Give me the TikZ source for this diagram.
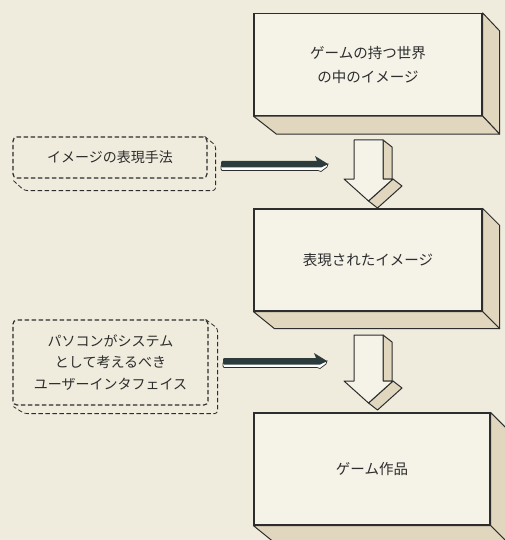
\documentclass[tikz,border=0pt]{standalone}
\usepackage{fontspec}
\newfontfamily\jp{Noto Sans CJK JP}
\usetikzlibrary{calc}
\definecolor{paper}{RGB}{239,235,221}
\definecolor{frontc}{RGB}{245,242,232}
\definecolor{sidec}{RGB}{224,215,190}
\definecolor{ink}{RGB}{45,45,45}
\definecolor{arrdark}{RGB}{44,60,60}
\newcommand\downarr[2]{%
 \filldraw[face] ($(#1)+(14.5,0)$) -- ($(#1)+(23.5,7)$) -- ($(#1)+(23.5,#2-29)$) -- ($(#1)+(14.5,#2-29)$) -- cycle;
 \filldraw[face] ($(#1)+(24.5,#2-29)$) -- ($(#1)+(33.5,#2-22)$) -- ($(#1)+(9,#2)$) -- ($(#1)+(0,#2-7)$) -- cycle;
 \filldraw[frontface] ($(#1)+(-14.5,0)$) -- ($(#1)+(14.5,0)$) -- ($(#1)+(14.5,#2-29)$) -- ($(#1)+(24.5,#2-29)$) -- ($(#1)+(0,#2-7)$) -- ($(#1)+(-24.5,#2-29)$) -- ($(#1)+(-14.5,#2-29)$) -- cycle;}
\newcommand\flatarr[2]{%
 \filldraw[fill=white, draw=ink, line width=0.7pt] ($(#1)+(0,2)$) -- ($(#2)+(-6,2)$) -- (#2) -- ($(#2)+(-1,3)$) -- ($(#2)+(-7,7.5)$) -- ($(#2)+(-10,6.5)$) -- ($(#1)+(1,6.5)$) -- ($(#1)+(0,5)$) -- cycle;
 \fill[arrdark] ($(#1)+(1,-3)$) -- ($(#2)+(-11,-3)$) -- ($(#2)+(-13,-8)$) -- (#2) -- ($(#2)+(-7,3.5)$) -- ($(#1)+(1,3.5)$) -- ($(#1)+(0,2)$) -- ($(#1)+(0,-2)$) -- cycle;}
\begin{document}
\begin{tikzpicture}[x=1pt,y=-1pt,
 face/.style={fill=sidec, draw=ink, line width=1pt, line join=round},
 frontface/.style={fill=frontc, draw=ink, line width=1pt, line join=round},
 mainbox/.style={draw=ink, line width=1.2pt, fill=frontc, minimum width=228pt, minimum height=102pt, inner sep=0pt, align=center, text=ink, font=\jp\fontsize{14.5}{24}\selectfont},
 dbox/.style={draw=ink, line width=1.2pt, dash pattern=on 4.5pt off 2.5pt, rounded corners=4pt, inner sep=0pt, align=center, text=ink, font=\jp\fontsize{14}{21.5}\selectfont},
 dface/.style={draw=ink, line width=0.8pt, dash pattern=on 4.5pt off 2.5pt, rounded corners=3pt}]
\clip (0,0) rectangle (505,540);
\fill[paper] (0,0) rectangle (505,540);
% main boxes
\node[mainbox] (b1) at (368,64.5) {ゲームの持つ世界\\の中のイメージ};
\filldraw[face] (b1.north east) -- ++(17,18) -- ($(b1.south east)+(17,18)$) -- (b1.south east) -- cycle;
\filldraw[face] (b1.south west) -- ++(23,18) -- ($(b1.south east)+(17,18)$) -- (b1.south east) -- cycle;
\node[mainbox] (b2) at (368,260) {表現されたイメージ};
\filldraw[face] (b2.north east) -- ++(17,17) -- ($(b2.south east)+(17,17)$) -- (b2.south east) -- cycle;
\filldraw[face] (b2.south west) -- ++(21,17) -- ($(b2.south east)+(17,17)$) -- (b2.south east) -- cycle;
\node[mainbox, minimum width=236pt, minimum height=112pt] (b3) at (372,469) {ゲーム作品};
\filldraw[face] (b3.north east) -- ++(17,17) -- ($(b3.south east)+(17,17)$) -- (b3.south east) -- cycle;
\filldraw[face] (b3.south west) -- ++(21,17) -- ($(b3.south east)+(17,17)$) -- (b3.south east) -- cycle;
% dashed boxes
\node[dbox, minimum width=194pt, minimum height=41pt] (dA) at (110,157.5) {イメージの表現手法};
\draw[dface] ($(dA.north east)+(-3,0)$) -- ($(dA.north east)+(8,9)$) -- ($(dA.south east)+(8,12)$) -- ($(dA.south west)+(12,12)$) -- ($(dA.south west)+(1,2)$);
\node[dbox, minimum width=195pt, minimum height=85pt] (dB) at (110.5,362.5) {パソコンがシステム\\として考えるべき\\ユーザーインタフェイス};
\draw[dface] ($(dB.north east)+(-3,0)$) -- ($(dB.north east)+(9,9)$) -- ($(dB.south east)+(9,8)$) -- ($(dB.south west)+(12,8)$) -- ($(dB.south west)+(1,1)$);
% down arrows
\coordinate (d1) at (368.5,140);
\coordinate (d2) at (368.5,335);
\downarr{d1}{68}
\downarr{d2}{75}
% flat arrows
\coordinate (h1s) at (221,164);
\coordinate (h1e) at (328,164);
\coordinate (h2s) at (223,361);
\coordinate (h2e) at (327,361);
\flatarr{h1s}{h1e}
\flatarr{h2s}{h2e}
\end{tikzpicture}
\end{document}
